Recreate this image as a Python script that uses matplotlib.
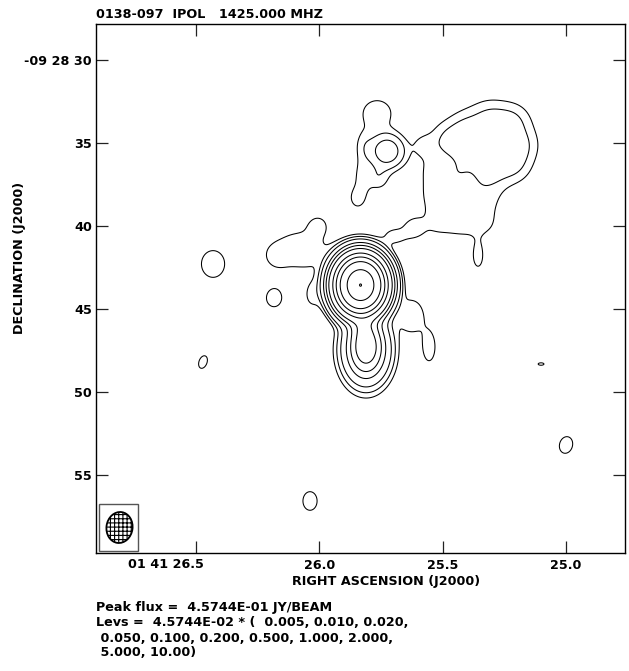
import numpy as np
import matplotlib
matplotlib.use('Agg')
import matplotlib.pyplot as plt
from matplotlib.patches import Ellipse, Rectangle
from matplotlib import transforms

plt.rcParams['font.family'] = ['DejaVu Sans']
plt.rcParams['font.weight'] = 'bold'
plt.rcParams['hatch.linewidth'] = 0.8

# ---------------- data ----------------
title_text = "0138-097  IPOL   1425.000 MHZ"
peak_flux = 4.5744e-01            # Jy/beam
lev_base = 4.5744e-02
lev_mults = [0.005, 0.010, 0.020, 0.050, 0.100, 0.200, 0.500, 1.000, 2.000, 5.000, 10.00]

ra_ticks = [26.5, 26.0, 25.5, 25.0]                 # RA seconds (01h41m)
ra_tick_labels = ["01 41 26.5", "26.0", "25.5", "25.0"]
dec_ticks = [30, 35, 40, 45, 50, 55]                # Dec arcsec (-09d28m)
dec_tick_labels = ["-09 28 30", "35", "40", "45", "50", "55"]
ra_range = [26.905, 24.761]
dec_range = [59.69, 27.86]

# source model components: RA (s), Dec (arcsec), fraction of peak, sigma E-W / N-S (arcsec)
# core, secondary, ridge, left shoulder
core_ra = [25.8329, 25.8106, 25.8106, 25.8227, 26.0294]
core_dec = [43.57, 47.24, 47.48, 46.09, 44.17]
core_rel = [1.0, 0.025, 0.012, 0.008, 0.0006]
core_sew = [0.679, 0.481, 0.781, 0.421, 0.421]
core_sns = [0.787, 0.781, 1.142, 0.481, 0.721]

# diffuse emission around the core (NW patch x3, E shoulder, appendix, N bridge x2, dip)
diff_ra = [26.0781, 26.0051, 26.1754, 25.6241, 25.5552, 25.6930, 25.6200, 25.3566]
diff_dec = [41.46, 39.96, 41.82, 45.43, 47.30, 40.62, 40.14, 41.88]
diff_rel = [0.00085, 0.0006, 0.0005, 0.0009, 0.0008, 0.0007, 0.0007, 0.0007]
diff_sew = [1.322, 0.481, 0.481, 0.601, 0.361, 0.601, 0.421, 0.300]
diff_sns = [0.962, 0.481, 0.481, 0.841, 0.841, 0.421, 0.421, 0.661]

# channel running north from the core
chan_ra = [25.5390, 25.5390, 25.4295, 25.3282, 25.5390, 25.4295, 25.3282, 25.4376]
chan_dec = [36.53, 38.15, 38.15, 38.15, 39.90, 39.90, 39.90, 36.77]
chan_rel = [0.00045] * 7 + [0.0004]
chan_sig = [0.841] * 7 + [0.601]

# north-east lobe (compact knots + broad halo)
ne_ra = [25.4822, 25.4012, 25.3079, 25.2187, 25.1863, 25.2147, 25.3079, 25.3890, 25.2877, 25.3079]
ne_dec = [34.84, 34.24, 33.64, 33.76, 35.14, 36.35, 36.65, 35.45, 35.14, 34.84]
ne_rel = [0.0008] * 9 + [0.0005]
ne_sig = [0.721] * 9 + [2.104]

# north-west knot and its lobe (knot, neck, upper lobe, left edge, lower edge, tip, tail)
knot_ra = [25.7254, 25.5795, 25.7660, 25.8187, 25.8268, 25.8470, 25.7619]
knot_dec = [35.51, 35.14, 33.22, 35.14, 37.13, 38.33, 37.13]
knot_rel = [0.0032, 0.0005, 0.00085, 0.0006, 0.0007, 0.0007, 0.0008]
knot_sew = [0.661, 0.481, 0.781, 0.421, 0.361, 0.361, 0.481]
knot_sns = [0.661, 0.481, 0.721, 0.721, 0.841, 0.481, 0.541]

# isolated faint blobs
blob_ra = [26.4307, 26.1835, 26.4713, 26.0376, 25.0000, 25.1012]
blob_dec = [42.30, 44.35, 48.20, 56.56, 53.19, 48.32]
blob_rel = [0.00084, 0.00062, 0.000567, 0.000614, 0.000617, 0.000515]
blob_sew = [0.680, 0.680, 0.481, 0.661, 0.601, 0.721]
blob_sns = [0.788, 0.788, 0.781, 0.872, 0.781, 0.300]
blob_pa = [0, 0, -20, 0, -15, 0]

beam_bmaj = 1.87   # arcsec
beam_bmin = 1.57
beam_pa = -8.0

info_lines = ["Peak flux =  4.5744E-01 JY/BEAM",
              "Levs =  4.5744E-02 * (  0.005, 0.010, 0.020,",
              " 0.050, 0.100, 0.200, 0.500, 1.000, 2.000,",
              " 5.000, 10.00)"]

# ---------------- model image ----------------
comp_ra = core_ra + diff_ra + chan_ra + ne_ra + knot_ra + blob_ra
comp_dec = core_dec + diff_dec + chan_dec + ne_dec + knot_dec + blob_dec
comp_rel = core_rel + diff_rel + chan_rel + ne_rel + knot_rel + blob_rel
comp_sew = core_sew + diff_sew + chan_sig + ne_sig + knot_sew + blob_sew
comp_sns = core_sns + diff_sns + chan_sig + ne_sig + knot_sns + blob_sns
comp_pa = [0] * (len(comp_ra) - len(blob_pa)) + blob_pa

cosd = np.cos(np.deg2rad(9 + 28 / 60 + 45 / 3600))
ra_g = np.linspace(ra_range[0], ra_range[1], 1100)
dec_g = np.linspace(dec_range[1], dec_range[0], 1100)
RA, DEC = np.meshgrid(ra_g, dec_g)
Z = np.zeros_like(RA)
for ra0, de0, rel, sew, sns, pa in zip(comp_ra, comp_dec, comp_rel, comp_sew, comp_sns, comp_pa):
    X = (RA - ra0) * 15 * cosd
    Y = -(DEC - de0)
    p = np.deg2rad(pa)
    m = X * np.sin(p) + Y * np.cos(p)
    n = X * np.cos(p) - Y * np.sin(p)
    Z += rel * peak_flux * np.exp(-0.5 * ((n / sew) ** 2 + (m / sns) ** 2))

levels = lev_base * np.array(lev_mults)
levels_plot = levels.copy()
levels_plot[-1] *= 0.996   # so the peak level shows as a dot

# ---------------- figure ----------------
W, H = 629, 671
fig = plt.figure(figsize=(W / 100, H / 100), dpi=100)
ax = fig.add_axes([96 / W, 118 / H, 529 / W, 529 / H])
ax.contour(RA, DEC, Z, levels=levels_plot, colors='black', linewidths=0.75)
ax.set_xlim(ra_range[0], ra_range[1])
ax.set_ylim(dec_range[0], dec_range[1])

fs = 9.2
ax.set_xticks(ra_ticks)
ax.set_xticklabels([''] + ra_tick_labels[1:])
ax.set_yticks(dec_ticks)
ax.set_yticklabels(dec_tick_labels)
ax.tick_params(direction='in', length=8.6, width=0.9, top=True, right=True,
               labeltop=False, labelright=False, labelsize=fs, color='#222222')
ax.tick_params(axis='x', pad=4)
ax.tick_params(axis='y', pad=3)
for s in ax.spines.values():
    s.set_linewidth(1.0)

# first RA label including hours/minutes
trans = transforms.blended_transform_factory(ax.transData, ax.transAxes)
trans_off = transforms.offset_copy(trans, fig=fig, x=8, y=-5.5, units='dots')
ax.text(ra_ticks[0], 0, ra_tick_labels[0], transform=trans_off, ha='right', va='top',
        fontsize=fs, fontweight='bold')

# beam
fx, fy = 23.5 / 529, 25.5 / 529
ax.add_patch(Rectangle((3.3 / 529, 2.3 / 529), 39 / 529, 46.7 / 529, transform=ax.transAxes,
                       fill=False, edgecolor='#555555', linewidth=1.0))
cx, cy = ax.transAxes.transform((fx, fy))
ppa = 529 / (dec_range[0] - dec_range[1])
ell = Ellipse((0, 0), width=beam_bmin, height=beam_bmaj, angle=beam_pa,
              fill=False, edgecolor='black', linewidth=1.3, hatch='++++')
ell.set_transform(transforms.Affine2D().scale(ppa).translate(cx, cy))
ax.add_patch(ell)

# texts
fig.text(96 / W, 1 - 18.5 / H, title_text, ha='left', va='baseline', fontsize=fs)
fig.text(386 / W, 1 - 581 / H, "RIGHT ASCENSION (J2000)", ha='center', va='center', fontsize=fs)
fig.text(20 / W, 1 - 258 / H, "DECLINATION (J2000)", ha='center', va='center',
         rotation=90, fontsize=fs)
for i, line in enumerate(info_lines):
    fig.text(96 / W, 1 - (611.5 + 15 * i) / H, line, ha='left', va='baseline', fontsize=fs)

fig.savefig('out.png', dpi=100)
